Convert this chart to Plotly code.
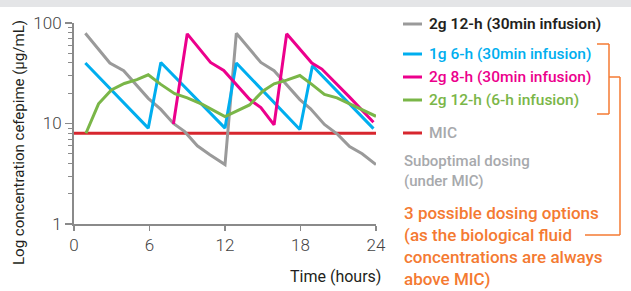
import plotly.graph_objects as go

# ---------------- data ----------------
gray_t = [0.9, 2.85, 3.95, 5.9, 6.9, 7.9, 8.8, 9.8, 10.8, 12.0,
          12.9, 14.85, 15.9, 17.95, 18.8, 19.9, 20.95, 21.9, 22.9, 24.0]
gray_v = [79, 40, 33.5, 17.8, 13.8, 10, 8.3, 6.0, 4.9, 3.9,
          79, 40.5, 33.5, 17.3, 14, 9.8, 7.8, 5.9, 5.0, 3.9]

blue_t = [0.9, 5.9, 6.9, 12.0, 12.9, 17.95, 18.95, 23.8]
blue_v = [40, 9.0, 40.5, 9.0, 40, 8.7, 37.5, 8.9]

pink_t = [7.9, 9.0, 10.85, 11.9, 13.95, 14.85, 15.9, 16.9, 18.9, 19.7, 21.9, 23.8]
pink_v = [9.9, 78, 40.5, 33.7, 17.4, 14.4, 9.7, 78, 40, 34.8, 18.3, 10.3]

green_t = [0.95, 1.95, 2.97, 4.0, 5.0, 5.9, 6.9, 8.0, 9.0, 10.2, 12.0,
           13.95, 15.0, 15.9, 16.9, 17.95, 18.9, 19.9, 20.9, 21.8, 24.0]
green_v = [8, 15.7, 21.6, 25, 27.3, 30.5, 24.5, 19.8, 18, 15.5, 11.7,
           15.3, 21, 24.8, 27, 30, 24.5, 19.5, 18, 16, 11.8]

mic_t = [0, 24]
mic_v = [8, 8]

x_ticks = [0, 6, 12, 18, 24]
y_ticks = [1, 10, 100]
y_minor_ticks = [2, 3, 4, 5, 6, 7, 8, 9, 20, 30, 40, 50, 60, 70, 80, 90]

series = [
    ("2g 12-h (30min infusion)", gray_t, gray_v, "#9a9a9a", "#231f20", 600),
    ("1g 6-h (30min infusion)", blue_t, blue_v, "#00aeef", "#00aeef", 500),
    ("2g 8-h (30min infusion)", pink_t, pink_v, "#ec008c", "#ec008c", 500),
    ("2g 12-h (6-h infusion)", green_t, green_v, "#7ab648", "#7ab648", 500),
    ("MIC", mic_t, mic_v, "#d7262e", "#a7a9ac", 500),
]

W, H = 631, 291
L, R, T, B = 74, 376, 23, 224  # plot area in pixels


def px(x):
    return (x - L) / (R - L)


def py(y):
    return (B - y) / (B - T)


fig = go.Figure()

# MIC first (background), then the others
draw_order = [4, 0, 1, 2, 3]
for i in draw_order:
    name, t, v, col, _, _ = series[i]
    fig.add_trace(go.Scatter(x=t, y=v, mode="lines", name=name,
                             line=dict(color=col, width=3),
                             showlegend=False, hoverinfo="skip"))

FONT = "Roboto"
ORANGE = "#f47a32"

shapes = []
annotations = []

# top grey band
shapes.append(dict(type="rect", xref="paper", yref="paper",
                   x0=px(0), x1=px(W), y0=py(0), y1=py(7),
                   fillcolor="#e4e5e7", line=dict(width=0), layer="above"))

# legend
leg_y = [24, 54, 77, 100, 133]
for (name, t, v, col, tcol, wt), yy in zip(series, leg_y):
    shapes.append(dict(type="line", xref="paper", yref="paper",
                       x0=px(403), x1=px(422), y0=py(yy), y1=py(yy),
                       line=dict(color=col, width=3)))
    annotations.append(dict(xref="paper", yref="paper", x=px(427), y=py(yy),
                            text=name, showarrow=False, xanchor="left",
                            yanchor="middle",
                            font=dict(family=FONT, size=15.5, color=tcol,
                                      weight=wt)))

annotations.append(dict(xref="paper", yref="paper", x=px(402), y=py(171),
                        text="Suboptimal dosing<br>(under MIC)", showarrow=False,
                        xanchor="left", yanchor="middle", align="left",
                        font=dict(family=FONT, size=15, color="#a7a9ac",
                                  weight=500)))

annotations.append(dict(xref="paper", yref="paper", x=px(402), y=py(246),
                        text="3 possible dosing options<br>(as the biological fluid"
                             "<br>concentrations are always<br>above MIC)",
                        showarrow=False, xanchor="left", yanchor="middle",
                        align="left",
                        font=dict(family=FONT, size=17, color=ORANGE,
                                  weight=500)))

# orange bracket
br = [((597, 44), (609, 44)), ((609, 44), (609, 114)), ((597, 114), (609, 114)),
      ((609, 77), (620, 77)), ((620, 77), (620, 235)), ((620, 235), (585, 235))]
for (x0, y0), (x1, y1) in br:
    shapes.append(dict(type="line", xref="paper", yref="paper",
                       x0=px(x0), x1=px(x1), y0=py(y0), y1=py(y1),
                       line=dict(color=ORANGE, width=1.5)))

# axis titles
annotations.append(dict(xref="paper", yref="paper", x=px(383), y=py(276),
                        text="Time (hours)", showarrow=False, xanchor="right",
                        yanchor="middle",
                        font=dict(family=FONT, size=16, color="#231f20")))
annotations.append(dict(xref="paper", yref="paper", x=px(19), y=py(143),
                        text="Log concentration cefepime (µg/mL)",
                        showarrow=False, textangle=-90, xanchor="center",
                        yanchor="middle",
                        font=dict(family=FONT, size=15, color="#231f20")))

fig.update_layout(
    width=W, height=H,
    margin=dict(l=L, r=W - R, t=T, b=H - B, pad=0),
    paper_bgcolor="white", plot_bgcolor="white",
    shapes=shapes, annotations=annotations,
    showlegend=False, hovermode=False,
)

fig.update_xaxes(range=[0, 24], tickvals=x_ticks,
                 ticktext=[str(v) for v in x_ticks],
                 showgrid=False, zeroline=False,
                 showline=True, linecolor="#8a8a8a", linewidth=2,
                 ticks="outside", ticklen=5, tickwidth=1.5, tickcolor="#8a8a8a",
                 tickfont=dict(family=FONT, size=17, color="#444444", weight=300))

fig.update_yaxes(type="log", range=[0, 2], tickvals=y_ticks,
                 ticktext=[str(v) for v in y_ticks],
                 showgrid=False, zeroline=False,
                 showline=True, linecolor="#8a8a8a", linewidth=2,
                 ticks="outside", ticklen=7, tickwidth=1.5, tickcolor="#8a8a8a",
                 minor=dict(tickvals=y_minor_ticks, ticks="outside", ticklen=4,
                            tickwidth=1, tickcolor="#8a8a8a", showgrid=False),
                 tickfont=dict(family=FONT, size=17, color="#444444", weight=300))

fig.write_html("out.html",
               config={"displayModeBar": False, "staticPlot": True},
               post_script="document.body.style.margin='0';"
                           "document.body.style.padding='0';")
